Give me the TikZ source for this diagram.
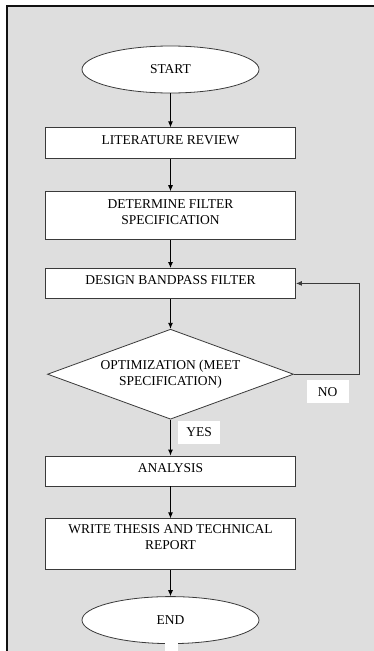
\documentclass[tikz,border=0pt]{standalone}
\usepackage{fontspec}
\setmainfont{Liberation Serif}
\usetikzlibrary{positioning,shapes.geometric,arrows.meta}
\definecolor{pageFill}{HTML}{dedede}
\definecolor{boxStroke}{HTML}{3a3a3a}
\definecolor{frameStroke}{HTML}{111111}

\begin{document}
\begin{tikzpicture}[
  x=1pt, y=-1pt,
  font=\fontsize{13.5}{16}\selectfont,
  term/.style={draw=boxStroke, fill=white, ellipse, line width=0.8pt,
               minimum width=177pt, minimum height=47pt, inner sep=0pt},
  proc/.style={draw=boxStroke, fill=white, line width=0.8pt,
               minimum width=250pt, minimum height=30pt, align=center, inner sep=2pt,
               text height=9pt, text depth=7pt},
  proc2/.style={proc, text height=25pt, text depth=8pt},
  decide/.style={draw=boxStroke, fill=white, diamond, aspect=2.73, line width=0.8pt,
                 minimum width=246pt, minimum height=90pt, align=center, inner sep=0pt},
  tag/.style={fill=white, minimum width=42pt, minimum height=23pt, inner sep=0pt},
  arr/.style={-{Latex[length=6pt,width=5pt]}, line width=0.9pt}
]
\useasboundingbox (0,0) rectangle (374,651);

% ============ PAGE FRAME ============
\fill[pageFill] (7,6) rectangle (374,651);
\draw[frameStroke, line width=2pt] (7,651) -- (7,6) -- (374,6);

% ============ MAIN FLOW ============
\node[term] (start) at (170.5,69.5) {START};
\node[proc, below=34pt of start, minimum height=31pt] (lit) {LITERATURE REVIEW};
\node[proc2, below=32pt of lit, minimum height=48pt] (spec) {DETERMINE FILTER\\SPECIFICATION};
\node[proc, below=28pt of spec] (design) {DESIGN BANDPASS FILTER};
\node[decide, below=30pt of design] (opt) {OPTIMIZATION (MEET\\SPECIFICATION)};
\node[proc, below=36pt of opt] (anal) {ANALYSIS};
\node[proc2, below=32pt of anal, minimum height=51pt, text depth=14pt] (thesis) {WRITE THESIS AND TECHNICAL\\REPORT};
\node[term, below=26pt of thesis] (end) {END};

\draw[arr] (start) -- (lit);
\draw[arr] (lit) -- (spec);
\draw[arr] (spec) -- (design);
\draw[arr] (design) -- (opt);
\draw[arr] (opt) -- (anal);
\draw[arr] (anal) -- (thesis);
\draw[arr] (thesis) -- (end);

% ============ FEEDBACK LOOP ============
\draw[arr, draw=boxStroke] (opt.east) -- ++(66,0) |- (design.east);
\node[tag, below right=6pt and 12.5pt of opt.east] (no) {NO};
\node[tag, below right=1pt and 7.5pt of opt.south] (yes) {YES};

% small blank patch under END
\fill[white] (165,641) rectangle (178,651);

\end{tikzpicture}
\end{document}
